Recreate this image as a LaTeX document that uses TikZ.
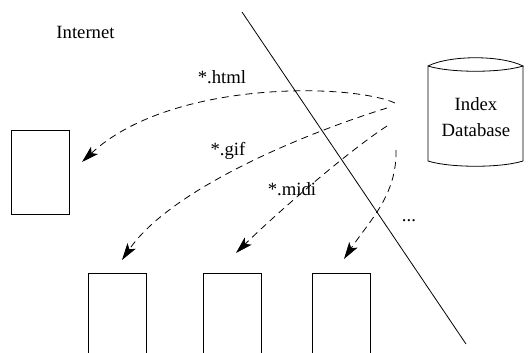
\documentclass[tikz,border=0pt]{standalone}
\usepackage{fontspec}
\setmainfont{Liberation Serif}
\usetikzlibrary{arrows.meta}
\begin{document}
\begin{tikzpicture}[x=1pt,y=-1pt,
  lbl/.style={inner sep=0pt, anchor=base, font=\fontsize{18.7}{22}\selectfont},
  box/.style={draw, line width=0.8pt, minimum width=58pt, minimum height=84pt, inner sep=0pt},
  flow/.style={line width=0.8pt, dash pattern=on 7pt off 5pt, -{Stealth[length=17pt,width=10pt,inset=4pt]}}]
\useasboundingbox (0,0) rectangle (531,353);
\clip (0,0) rectangle (531,353);
% boxes
\node[box] (left) at (40,172) {};
\node[box, minimum height=100pt, anchor=north] (b1) at (117,273) {};
\node[box, minimum height=100pt, anchor=north] (b2) at (232,273) {};
\node[box, minimum height=100pt, anchor=north] (b3) at (341,273) {};
% dividing line
\coordinate (ltop) at (242,12);
\coordinate (lbot) at (466,344);
\draw[line width=0.8pt] (ltop) -- (lbot);
% database cylinder
\draw[line width=0.8pt] (428,66) .. controls (450,55) and (501,55) .. (523,66)
  .. controls (501,73) and (450,73) .. (428,66) -- (428,161)
  .. controls (450,168) and (501,168) .. (523,161) -- (523,66);
\node[lbl] (dbA) at (476,111) {Index};
\node[lbl] (dbB) at (476,136) {Database};
% labels
\node[lbl] (inet) at (85.5,38.3) {Internet};
\node[lbl] (lhtml) at (222,83.3) {*.html};
\node[lbl] (lgif) at (228,155.5) {*.gif};
\node[lbl] (lmidi) at (292,195) {*.midi};
\node[lbl] (ldots) at (409,222) {...};
% flow endpoints
\coordinate (s1) at (395,103);
\coordinate (s2) at (387,108);
\coordinate (s3) at (387,126);
\coordinate (s4) at (396,150);
\coordinate (t1) at (82,162);
\coordinate (t2) at (122,260);
\coordinate (t3) at (236,253);
\coordinate (t4) at (344,259);
\draw[flow] (s1) .. controls (350,83) and (170,80) .. (t1);
\draw[flow] (s2) .. controls (300,135) and (170,190) .. (t2);
\draw[flow] (s3) .. controls (350,150) and (280,210) .. (t3);
\draw[flow] (s4) .. controls (397,195) and (370,220) .. (t4);
\end{tikzpicture}
\end{document}
